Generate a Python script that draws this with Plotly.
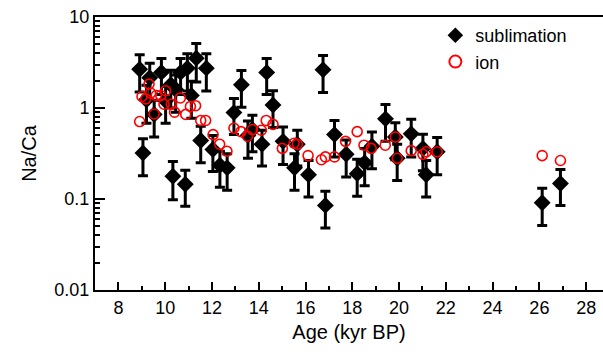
import plotly.graph_objects as go

# sublimation data
sub_age = [8.91, 9.05, 9.20, 9.34, 9.53, 9.84, 10.02, 10.24, 10.33, 10.45, 10.66, 10.86, 10.95,
           11.12, 11.33, 11.52, 11.76, 12.04, 12.34, 12.65, 12.94, 13.26, 13.54, 13.73, 14.14,
           14.34, 14.61, 15.04, 15.53, 15.65, 16.13, 16.75, 16.85, 17.24, 17.74, 18.21, 18.53,
           18.84, 19.42, 19.84, 19.92, 20.52, 21.02, 21.16, 21.63, 26.12, 26.90]
sub_val = [2.67, 0.32, 1.23, 2.15, 0.85, 2.46, 1.20, 1.80, 0.178, 1.60, 2.46, 0.145, 2.74,
           1.37, 3.53, 0.44, 2.74, 0.35, 0.235, 0.22, 0.89, 1.80, 0.50, 0.58, 0.40,
           2.46, 1.08, 0.43, 0.22, 0.40, 0.185, 2.63, 0.085, 0.51, 0.31, 0.19, 0.25,
           0.38, 0.76, 0.48, 0.28, 0.52, 0.36, 0.185, 0.33, 0.091, 0.148]
sub_err = [1.17, 0.14, 0.55, 0.95, 0.37, 1.05, 0.52, 0.80, 0.08, 0.70, 1.05, 0.062, 1.20,
           0.60, 1.60, 0.19, 1.20, 0.15, 0.10, 0.095, 0.38, 0.78, 0.22, 0.25, 0.17,
           1.05, 0.47, 0.19, 0.095, 0.17, 0.08, 1.15, 0.037, 0.22, 0.135, 0.083, 0.11,
           0.165, 0.33, 0.21, 0.12, 0.23, 0.155, 0.08, 0.145, 0.04, 0.063]

# ion data
ion_age = [8.91, 9.01, 9.17, 9.31, 9.38, 9.53, 9.62, 9.81, 9.95, 10.02, 10.26, 10.40, 10.65,
           10.88, 11.08, 11.30, 11.52, 11.73, 12.05, 12.33, 12.64, 12.94, 13.24, 13.52, 13.73,
           14.11, 14.32, 14.61, 15.01, 15.51, 15.65, 16.11, 16.68, 16.85, 17.24, 17.71, 18.21,
           18.50, 18.81, 19.41, 19.84, 19.92, 20.52, 21.02, 21.16, 21.63, 26.12, 26.90]
ion_val = [0.71, 1.34, 1.26, 1.83, 1.46, 0.86, 1.37, 1.37, 1.10, 1.55, 1.10, 0.90, 1.29,
           0.85, 1.04, 1.06, 0.73, 0.73, 0.51, 0.40, 0.335, 0.60, 0.55, 0.49, 0.58,
           0.57, 0.73, 0.66, 0.36, 0.41, 0.40, 0.30, 0.27, 0.29, 0.29, 0.43, 0.55,
           0.39, 0.36, 0.39, 0.48, 0.28, 0.34, 0.31, 0.33, 0.33, 0.30, 0.265]

y_tickvals = [0.01, 0.1, 1, 10]
y_ticktext = ["0.01", "0.1", "1", "10"]
x_tickvals = [8, 10, 12, 14, 16, 18, 20, 22, 24, 26, 28]

FONT = "Liberation Sans, Arial, sans-serif"

fig = go.Figure()
fig.add_trace(go.Scatter(
    x=sub_age, y=sub_val, mode="markers", name="sublimation",
    marker=dict(symbol="diamond", size=13, color="black"),
    error_y=dict(type="data", array=sub_err, color="black", thickness=3, width=5),
))
fig.add_trace(go.Scatter(
    x=ion_age, y=ion_val, mode="markers", name="ion",
    marker=dict(symbol="circle-open", size=10, color="red", line=dict(width=1.6, color="red")),
))

fig.update_layout(
    width=603, height=364,
    margin=dict(l=95, r=0, t=17, b=74),
    paper_bgcolor="white", plot_bgcolor="white",
    font=dict(family=FONT, size=18, color="black"),
    showlegend=True,
    legend=dict(x=0.67, y=1.0, xanchor="left", yanchor="top", bgcolor="rgba(0,0,0,0)",
                font=dict(size=18), itemsizing="constant", tracegroupgap=0),
)
fig.update_xaxes(
    range=[7, 28.72], showgrid=False, zeroline=False,
    showline=True, linecolor="black", linewidth=2, mirror=True,
    ticks="inside", ticklen=8, tickwidth=2, tickcolor="black",
    tickvals=x_tickvals,
    minor=dict(ticks="inside", ticklen=4, tickwidth=2, tickcolor="black", dtick=1),
    title=dict(text="Age (kyr BP)", font=dict(size=20), standoff=8),
    tickfont=dict(size=18),
)
fig.update_yaxes(
    type="log", range=[-2, 1], showgrid=False, zeroline=False,
    showline=True, linecolor="black", linewidth=2,
    ticks="inside", ticklen=10, tickwidth=2, tickcolor="black",
    tickvals=y_tickvals, ticktext=y_ticktext,
    minor=dict(ticks="inside", ticklen=5, tickwidth=2, tickcolor="black", dtick="D1"),
    title=dict(text="Na/Ca", font=dict(size=20), standoff=12),
    tickfont=dict(size=18),
)

fig.write_html("out.html")
